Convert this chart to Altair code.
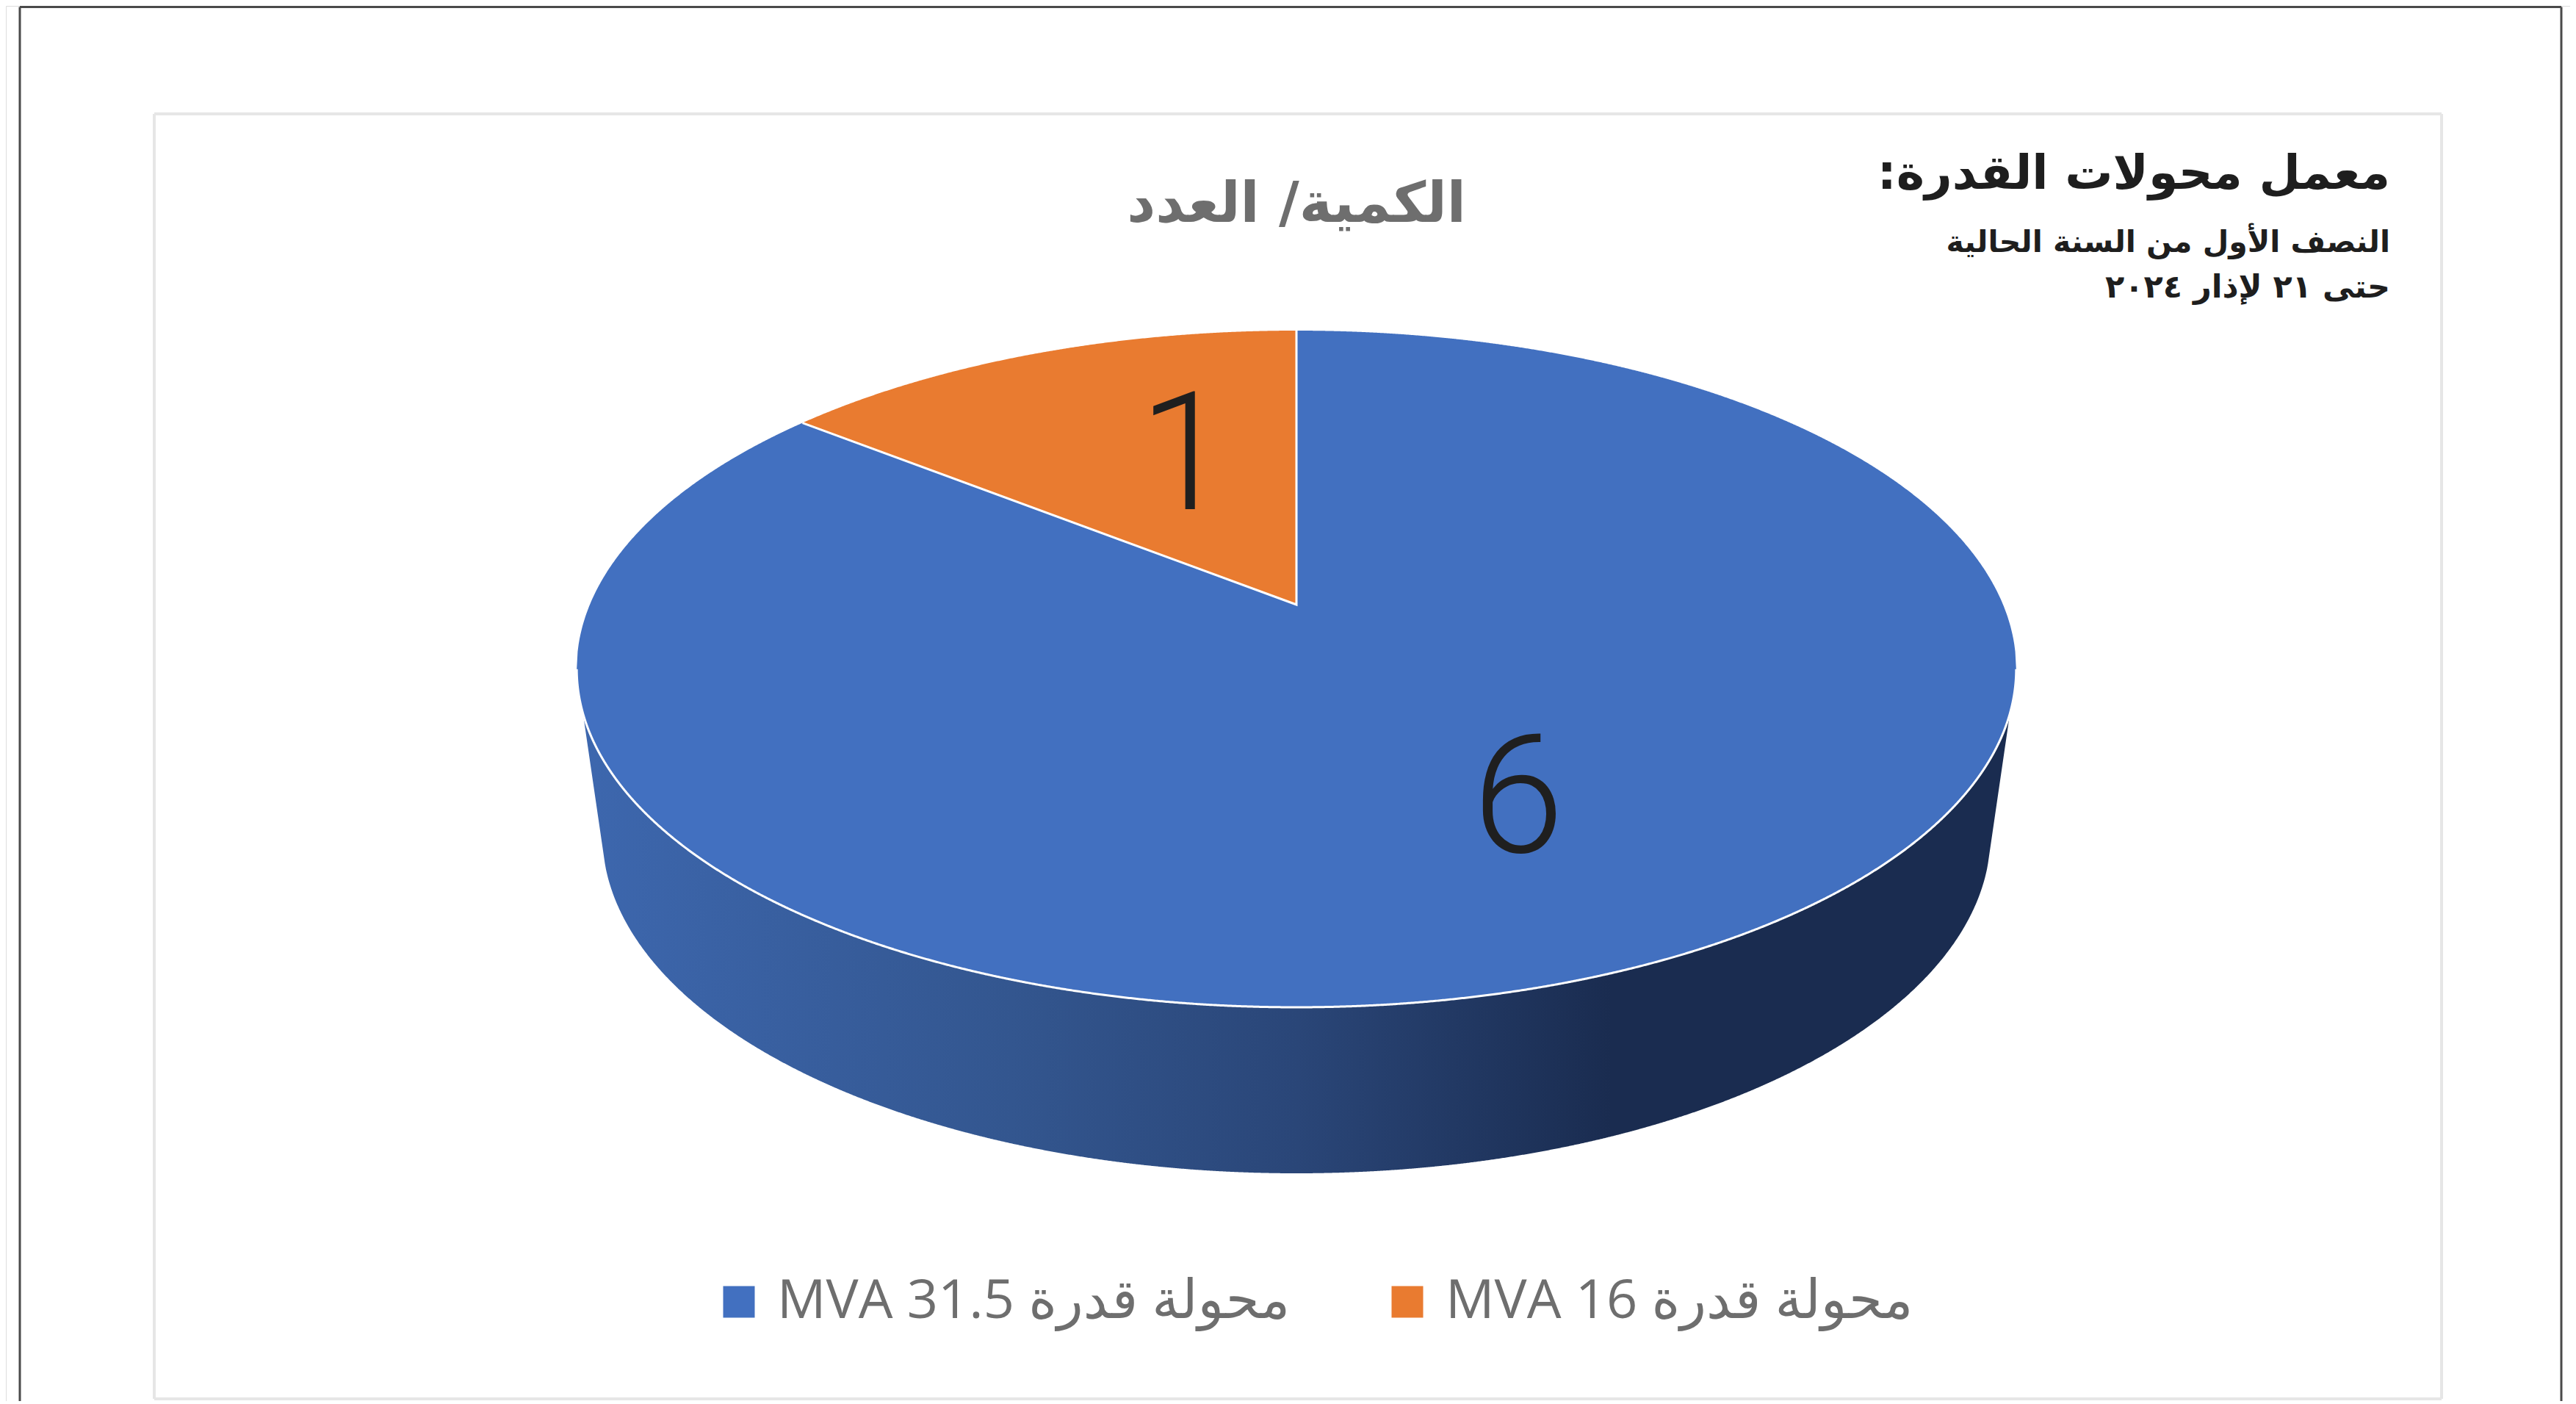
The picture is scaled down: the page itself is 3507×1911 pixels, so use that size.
import altair as alt
import numpy as np
import pandas as pd

# --- chart content ---
categories = ["MVA 31.5 محولة قدرة", "MVA 16 محولة قدرة"]
values = [6, 1]
colors = ["#4270C0", "#E97B30"]
title_text = "الكمية/ العدد"
head_text = "معمل محولات القدرة:\u200f"
sub_line_1 = "النصف الأول من السنة الحالية"
sub_line_2 = "حتى ٢١ لإذار ٢٠٢٤"

# --- pie geometry: a perspective view of a disc ---
CX, APEX_Y, R, C, B = 1765.0, 823.0, 962.0, 0.19, -287.5
DEPTH_RX, DEPTH_CY, DEPTH_RY = 945.0, 1136.0, 461.0


def project(deg):
    a = np.radians(deg)
    u, v = -np.sin(a), np.cos(a)
    return CX + R * u / (1 + C * v), (APEX_Y + B * v) / (1 + C * v)


ang = np.arange(0, 360.01, 0.1)
rim_x, rim_y = project(ang)
il, ir = int(np.argmin(rim_x)), int(np.argmax(rim_x))
up_x = np.r_[rim_x[:il + 1][::-1], rim_x[ir:][::-1]]
up_y = np.r_[rim_y[:il + 1][::-1], rim_y[ir:][::-1]]
lo_x, lo_y = rim_x[il:ir + 1], rim_y[il:ir + 1]


def upper(x):
    return np.interp(x, up_x, up_y)


def lower(x):
    return np.interp(x, lo_x, lo_y)


slice_deg = 360.0 * values[1] / sum(values)
edge_x, edge_y = project(slice_deg)
grid = np.linspace(rim_x.min(), rim_x.max(), 1500)


def cut(x):
    return APEX_Y + (edge_y - APEX_Y) * (CX - x) / (CX - edge_x)


# main slice
left = grid[grid <= edge_x]
mid = np.linspace(edge_x, CX, 300)
right = grid[grid >= CX]
main_x = np.r_[left, mid, right]
main_y = np.r_[upper(left), cut(mid), upper(right)]
main_y2 = np.r_[lower(left), lower(mid), lower(right)]
main_df = pd.DataFrame({"x": main_x, "y": main_y, "y2": main_y2, "cat": categories[0]})
# small slice
small_df = pd.DataFrame({"x": mid, "y": upper(mid), "y2": cut(mid), "cat": categories[1]})

# wall
SIDE_L, KNEE = 793.0, 941.0
side_x = np.linspace(SIDE_L, 2 * CX - SIDE_L, 1400)
du = np.abs(side_x - CX)
bottom = np.where(
    du <= KNEE,
    DEPTH_CY + DEPTH_RY * np.sqrt(np.clip(1 - (du / DEPTH_RX) ** 2, 0, 1)),
    DEPTH_CY + DEPTH_RY * np.sqrt(1 - (KNEE / DEPTH_RX) ** 2)
    - (du - KNEE) / (CX - SIDE_L - KNEE) * 212,
)
side_df = pd.DataFrame({"x": side_x, "y": lower(side_x) - 4, "y2": bottom})

# white seams
rim_df = pd.DataFrame({"x": lo_x, "y": lo_y, "i": np.arange(len(lo_x))})
seam_df = pd.DataFrame({"x": [edge_x, CX, CX], "y": [edge_y, APEX_Y, rim_y[0]], "i": [0, 1, 2]})

xs = alt.Scale(domain=[8, 3499], nice=False, zero=False)
ys = alt.Scale(domain=[1907, 8], nice=False, zero=False)
X = alt.X("x:Q", scale=xs, axis=None, stack=False)
Y = alt.Y("y:Q", scale=ys, axis=None, stack=False)

side_fill = alt.Gradient(
    gradient="linear", x1=0, x2=1, y1=0, y2=0,
    stops=[alt.GradientStop(offset=0, color="#3D67AE"),
           alt.GradientStop(offset=0.30, color="#33568F"),
           alt.GradientStop(offset=0.50, color="#2A4678"),
           alt.GradientStop(offset=0.72, color="#1A2C50"),
           alt.GradientStop(offset=1, color="#1A2C50")],
)
side = alt.Chart(side_df).mark_area(fill=side_fill, interpolate="linear").encode(
    x=X, y=Y, y2="y2:Q")

color = alt.Color(
    "cat:N",
    scale=alt.Scale(domain=categories, range=colors),
    legend=alt.Legend(
        orient="none", legendX=961, legendY=1727, direction="horizontal", title=None,
        symbolType="square", symbolSize=1850, symbolStrokeWidth=0, labelFontSize=74,
        labelFont="Open Sans, DejaVu Sans", labelColor="#6E6E6E", labelLimit=0,
        columnPadding=122, labelOffset=15, padding=0, symbolOpacity=1,
    ),
)
main = alt.Chart(main_df).mark_area(interpolate="linear", opacity=1).encode(
    x=X, y=Y, y2="y2:Q", color=color)
small = alt.Chart(small_df).mark_area(interpolate="linear", opacity=1).encode(
    x=X, y=Y, y2="y2:Q", color=color)
rim = alt.Chart(rim_df).mark_line(color="white", strokeWidth=3).encode(x=X, y=Y, order="i:Q")
seam = alt.Chart(seam_df).mark_line(color="white", strokeWidth=3).encode(x=X, y=Y, order="i:Q")


def frame(x0, x1, y0, y1, col, w):
    pts = pd.DataFrame({"p": [0]})
    c = alt.Chart(pts)
    m = {"color": col, "strokeWidth": w}
    return (
        c.mark_rule(**m).encode(x=alt.value(x0 - 8), x2=alt.value(x1 - 8), y=alt.value(y0 - 8))
        + c.mark_rule(**m).encode(x=alt.value(x0 - 8), x2=alt.value(x1 - 8), y=alt.value(y1 - 8))
        + c.mark_rule(**m).encode(x=alt.value(x0 - 8), y=alt.value(y0 - 8), y2=alt.value(y1 - 8))
        + c.mark_rule(**m).encode(x=alt.value(x1 - 8), y=alt.value(y0 - 8), y2=alt.value(y1 - 8))
    )


outer = frame(27, 3487, 9.5, 1940, "#4A4A4A", 3)
inner = frame(210, 3324, 155, 1904, "#E6E6E6", 4)


def label(text, x, y, size, col, align="right", font="DejaVu Sans", weight="normal"):
    return alt.Chart(pd.DataFrame({"t": [text]})).mark_text(
        align=align, baseline="alphabetic", fontSize=size, color=col, font=font, fontWeight=weight,
    ).encode(x=alt.value(x - 8), y=alt.value(y - 8), text="t:N")


texts = (
    label(title_text, 1765, 302, 76, "#6E6E6E", "center", weight="bold")
    + label(head_text, 3254, 257, 65, "#1E1E1E", weight="bold")
    + label(sub_line_1, 3254, 343, 41, "#1E1E1E", weight="bold")
    + label(sub_line_2, 3254, 405, 43, "#1E1E1E", weight="bold")
    + label(str(values[1]), 1613, 693, 225, "#1F1F1F", "center", "Roboto", 300)
    + label(str(values[0]), 2067, 1160, 225, "#1F1F1F", "center", "Roboto", 300)
)

chart = (outer + inner + side + main + small + rim + seam + texts).properties(
    width=3491, height=1899, padding=0, autosize=alt.AutoSizeParams(type="none"),
).configure_view(stroke=None).configure(background="white")

chart.save("out.html", embed_options={"renderer": "svg", "actions": False})
